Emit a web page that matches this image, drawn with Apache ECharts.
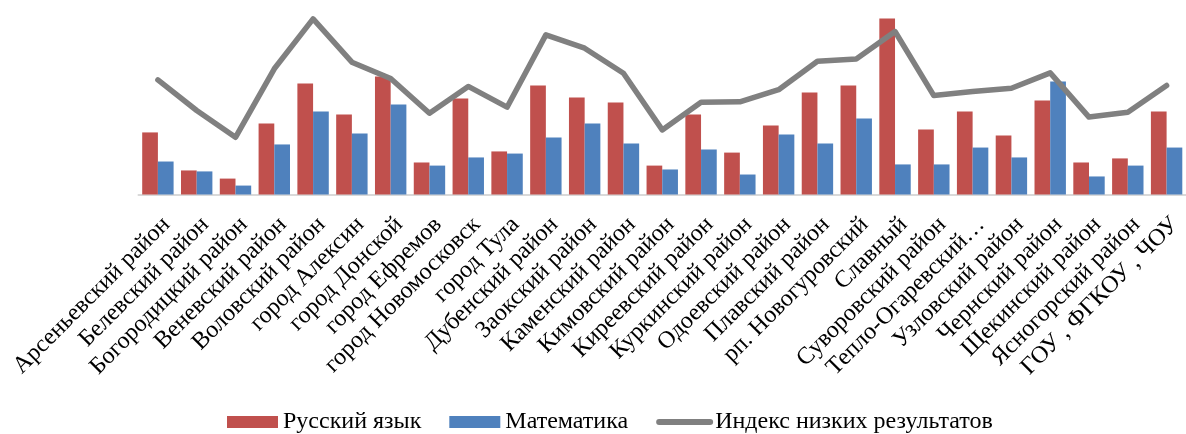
<!DOCTYPE html>
<html>
<head>
<meta charset="utf-8">
<script src="https://cdn.jsdelivr.net/npm/echarts@6/dist/echarts.min.js"></script>
<style>
  html, body { margin: 0; padding: 0; background: #fff; }
  #chart { width: 1186px; height: 434px; }
</style>
</head>
<body>
<div id="chart"></div>
<script>
const districts = [
  'Арсеньевский район', 'Белевский район', 'Богородицкий район', 'Веневский район',
  'Воловский район', 'город Алексин', 'город Донской', 'город Ефремов',
  'город Новомосковск', 'город Тула', 'Дубенский район', 'Заокский район',
  'Каменский район', 'Кимовский район', 'Киреевский район', 'Куркинский район',
  'Одоевский район', 'Плавский район', 'рп. Новогуровский', 'Славный',
  'Суворовский район', 'Тепло-Огаревский…', 'Узловский район', 'Чернский район',
  'Щекинский район', 'Ясногорский район', 'ГОУ , ФГКОУ , ЧОУ'
]
const russian = [32.0, 12.4, 8.2, 36.6, 57.2, 41.2, 60.8, 16.5, 49.5, 22.2, 56.2, 50.0, 47.4, 14.9,
  41.2, 21.6, 35.6, 52.6, 56.2, 90.7, 33.5, 42.8, 30.4, 48.5, 16.5, 18.6, 42.8]
const maths = [17.0, 11.9, 4.6, 25.8, 42.8, 31.4, 46.4, 14.9, 19.1, 21.1, 29.4, 36.6, 26.3, 12.9,
  23.2, 10.3, 30.9, 26.3, 39.2, 15.5, 15.5, 24.2, 19.1, 58.2, 9.3, 14.9, 24.2]
const lowIndex = [59.1, 43.3, 29.5, 64.8, 90.5, 68.2, 59.8, 41.9, 55.7, 45.0, 82.3, 75.4, 62.5, 33.3,
  47.6, 47.8, 54.0, 68.7, 69.9, 84.0, 51.0, 53.1, 54.8, 62.7, 39.9, 42.4, 56.2]

const font = '"Liberation Serif", "DejaVu Serif", serif'
let chart = echarts.init(document.getElementById('chart'))

chart.setOption({
  animation: false,
  color: ['#C0504D', '#4F81BD', '#808080'],
  grid: {
    left: 138.5,
    right: -12,
    top: 0.5,
    bottom: 239.5,
    containLabel: false
  },
  legend: {
    left: 222,
    top: 405,
    itemWidth: 51,
    itemHeight: 12,
    itemGap: 28,
    textStyle: { fontFamily: font, fontSize: 24, color: '#000' },
    data: [
      { name: 'Русский язык', icon: 'rect' },
      { name: 'Математика', icon: 'rect' },
      {
        name: 'Индекс низких результатов',
        itemStyle: { opacity: 0 },
        lineStyle: { width: 6, cap: 'round' }
      }
    ]
  },
  xAxis: {
    type: 'category',
    data: districts,
    axisLine: { lineStyle: { color: '#D9D9D9', width: 2 } },
    axisTick: { show: false },
    axisLabel: {
      interval: 0,
      rotate: 45,
      margin: 18,
      verticalAlign: 'top',
      fontFamily: font,
      fontSize: 24,
      color: '#000'
    }
  },
  yAxis: {
    type: 'value',
    min: 0,
    max: 100,
    show: false,
    splitLine: { show: false }
  },
  series: [
    {
      name: 'Русский язык',
      type: 'bar',
      barWidth: 15.7,
      barGap: 0,
      data: russian
    },
    {
      name: 'Математика',
      type: 'bar',
      barWidth: 15.7,
      barGap: 0,
      data: maths
    },
    {
      name: 'Индекс низких результатов',
      type: 'line',
      symbol: 'none',
      lineStyle: { width: 5.5, color: '#808080', join: 'round', cap: 'round' },
      data: lowIndex
    }
  ]
})
</script>
</body>
</html>
